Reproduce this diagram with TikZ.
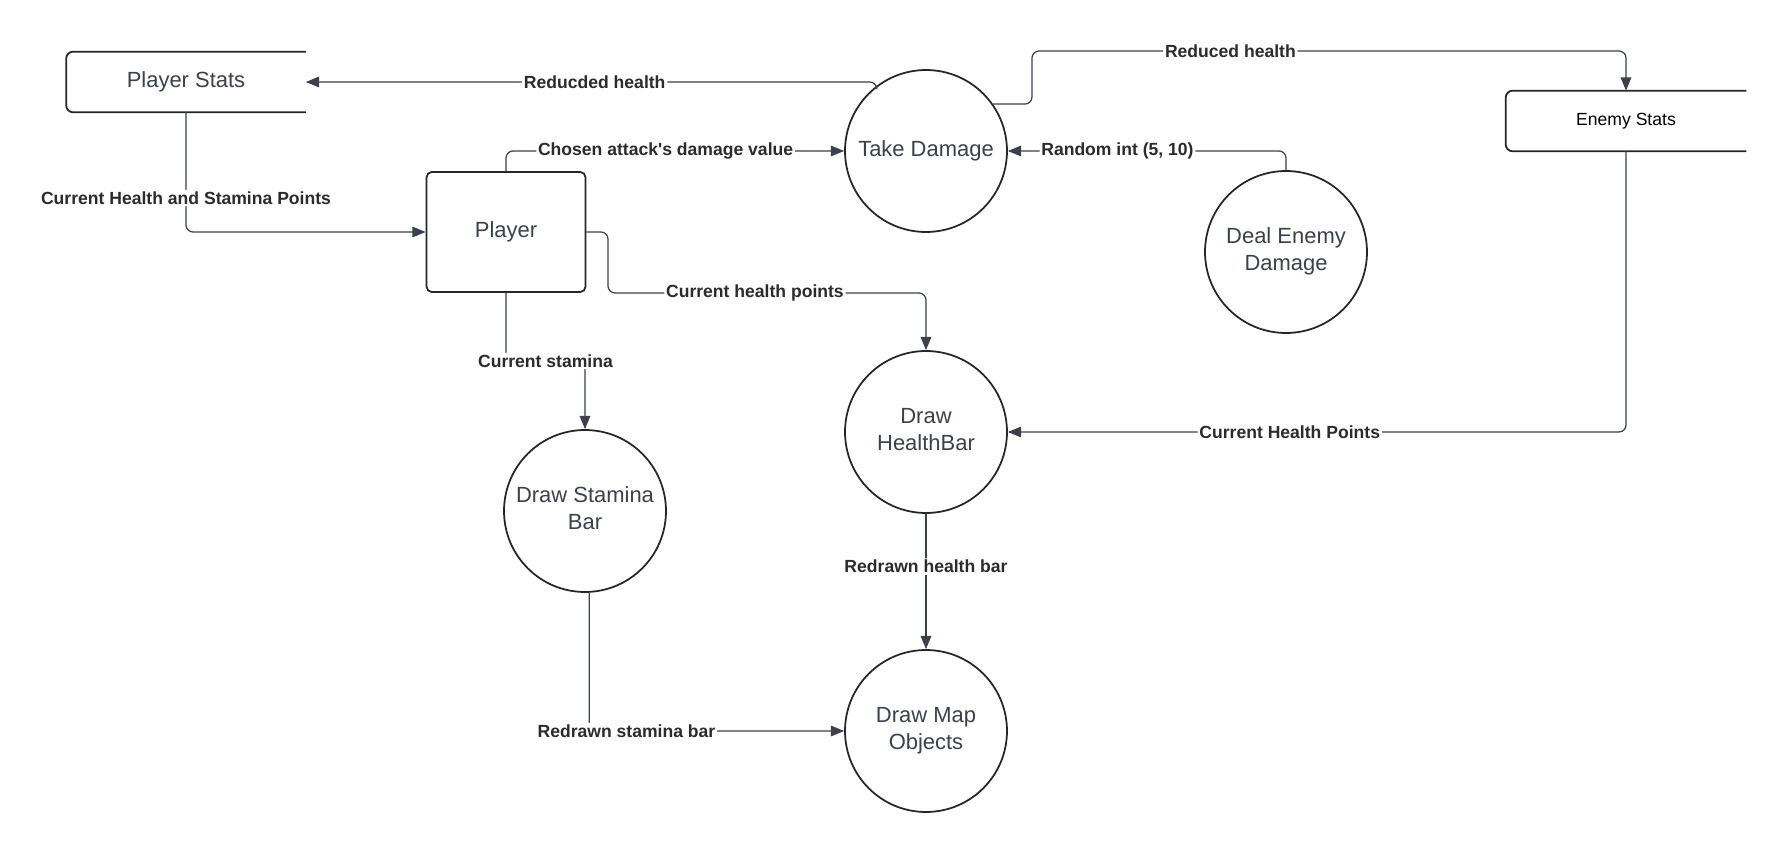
\documentclass[tikz,border=0pt]{standalone}
\usepackage{fontspec}
\setmainfont{Liberation Sans}
\usetikzlibrary{arrows.meta,calc}

\definecolor{linegray}{HTML}{3B4049}
\definecolor{textgray}{HTML}{3A414A}
\definecolor{labelgray}{HTML}{2B2B2B}

\begin{document}
\begin{tikzpicture}[x=0.02cm, y=-0.02cm,
    process/.style={circle, draw=black!85, line width=1pt, minimum size=3.24cm,
      align=center, text=textgray, font=\fontsize{12.5}{15.4}\selectfont},
    entity/.style={rectangle, rounded corners=3pt, draw=black!85, line width=1pt,
      minimum width=3.18cm, minimum height=2.4cm, text=textgray,
      font=\fontsize{12.5}{15}\selectfont},
    store/.style={rectangle, minimum height=1.2cm},
    storeline/.style={draw=black!85, line width=1pt, rounded corners=4pt},
    flow/.style={draw=linegray, line width=0.7pt, rounded corners=4pt,
      -{Triangle[length=7.5pt,width=6pt]}},
    lbl/.style={fill=white, inner sep=1pt, text=labelgray,
      font=\bfseries\fontsize{10}{12}\selectfont}]
  \useasboundingbox (0,0) rectangle (1786,852);

  \node[store, minimum width=4.78cm, text=textgray, font=\fontsize{12.5}{15}\selectfont]
    (pstats) at (186, 82) {Player Stats};
  \node[store, minimum width=4.8cm, font=\fontsize{10}{12}\selectfont]
    (estats) at (1626, 121) {Enemy Stats};
  \node[entity] (player) at (506, 232) {Player};
  \node[process] (take) at (926, 151) {Take Damage};
  \node[process] (deal) at (1286, 252) {Deal Enemy\\Damage\rule[-3pt]{0pt}{0pt}};
  \node[process] (health) at (926, 432) {Draw\\HealthBar\rule[-3pt]{0pt}{0pt}};
  \node[process] (stamina) at (585, 511) {Draw Stamina\\Bar\rule[-3pt]{0pt}{0pt}};
  \node[process] (mapobj) at (926, 731) {Draw Map\\Objects};
  \coordinate (rh) at (1032, 51);
  \coordinate (hp) at (608, 293);
  \coordinate (cs) at ($(player.south)!0.5!(stamina.north)$);

  \draw[storeline] (pstats.north east) -- (pstats.north west) -- (pstats.south west) -- (pstats.south east);
  \draw[storeline] (estats.north east) -- (estats.north west) -- (estats.south west) -- (estats.south east);

  \draw[flow] (take.127) |- (pstats.east) node[lbl, pos=0.747] {Reducded health};
  \draw[flow] (take.35) -| (rh) -| (estats.north) node[lbl, pos=0.167] {Reduced health};
  \draw[flow] (pstats.south) |- (player.west) node[lbl, pos=0.358] {Current Health and Stamina Points};
  \draw[flow] (player.north) |- (take.west) node[lbl, pos=0.736] {Chosen attack\textquotesingle s damage value};
  \draw[flow] (deal.north) |- (take.east) node[lbl, pos=0.803] {Random int (5, 10)};
  \draw[flow] (player.east) -| (hp) -| (health.north) node[lbl, pos=0.231] {Current health points};
  \draw[flow] (player.south) |- (cs) node[lbl] {Current stamina} -| (stamina.north);
  \draw[flow] (estats.south) |- (health.east) node[lbl, pos=0.772] {Current Health Points};
  \draw[flow] (health.south) -- (mapobj.north) node[lbl, pos=0.39] {Redrawn health bar};
  \draw[flow] (stamina.273) |- (mapobj.west) node[lbl, pos=0.573] {Redrawn stamina bar};
\end{tikzpicture}
\end{document}
